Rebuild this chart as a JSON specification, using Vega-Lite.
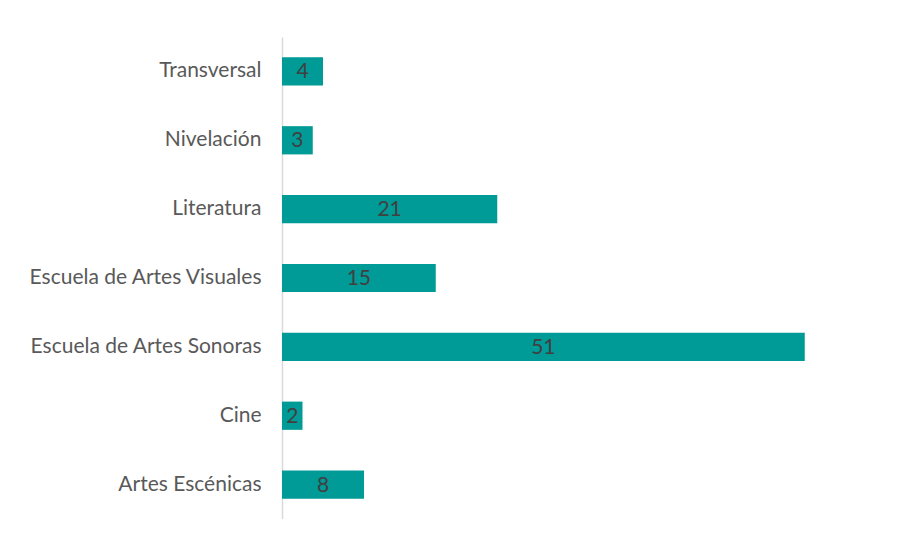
{
  "$schema": "https://vega.github.io/schema/vega-lite/v6.json",
  "autosize": {"type": "none"},
  "padding": {"left": 282, "top": 37, "right": 0, "bottom": 0},
  "width": 615,
  "height": 482,
  "background": "white",
  "config": {"view": {"stroke": null}, "font": "Lato"},
  "data": {
    "values": [
      {"area": "Transversal", "n": 4},
      {"area": "Nivelación", "n": 3},
      {"area": "Literatura", "n": 21},
      {"area": "Escuela de Artes Visuales", "n": 15},
      {"area": "Escuela de Artes Sonoras", "n": 51},
      {"area": "Cine", "n": 2},
      {"area": "Artes Escénicas", "n": 8}
    ]
  },
  "encoding": {
    "y": {
      "field": "area",
      "type": "nominal",
      "sort": null,
      "scale": {"paddingInner": 0.59, "paddingOuter": 0.295},
      "axis": {
        "title": null,
        "ticks": false,
        "domainColor": "#d9d9d9",
        "domainWidth": 1.5,
        "labelPadding": 21,
        "labelFontSize": 21,
        "labelLimit": 0,
        "labelColor": "#595959",
        "labelFont": "Lato"
      }
    }
  },
  "layer": [
    {
      "mark": {"type": "bar", "color": "#009a97"},
      "encoding": {
        "x": {
          "field": "n",
          "type": "quantitative",
          "scale": {"domain": [0, 60], "nice": false},
          "axis": null
        }
      }
    },
    {
      "transform": [{"calculate": "datum.n / 2", "as": "mid"}],
      "mark": {"type": "text", "fontSize": 21, "color": "#404040", "font": "Lato", "baseline": "middle", "dy": 1},
      "encoding": {
        "x": {"field": "mid", "type": "quantitative"},
        "text": {"field": "n", "type": "quantitative"}
      }
    }
  ]
}
